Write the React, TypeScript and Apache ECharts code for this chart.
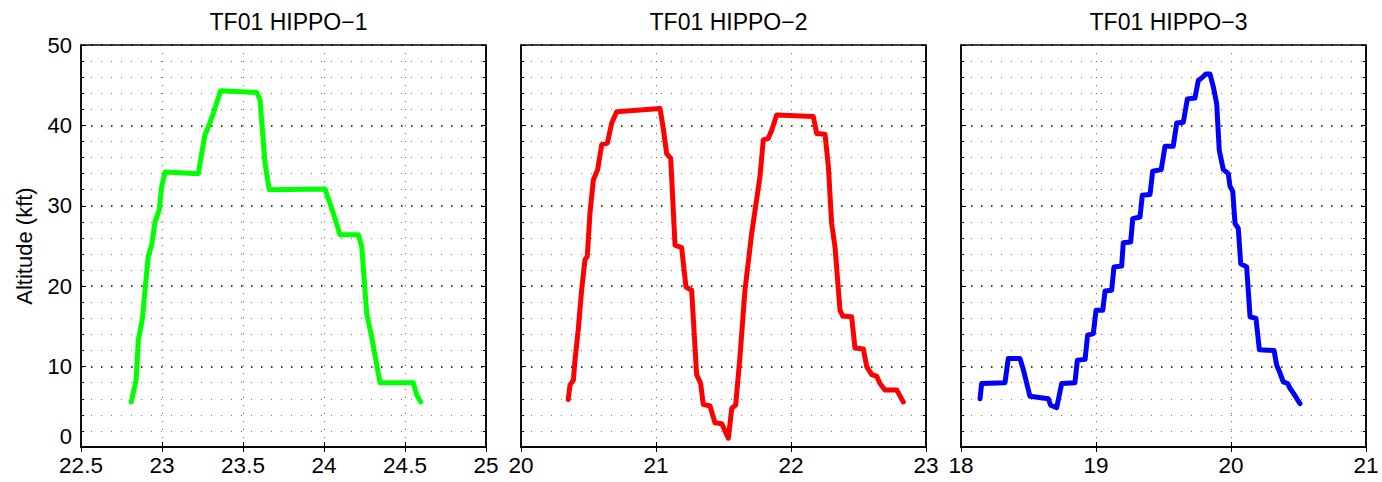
import React, { useEffect, useRef } from "react";
import * as echarts from "echarts";

const titles = ["TF01 HIPPO\u22121", "TF01 HIPPO\u22122", "TF01 HIPPO\u22123"];
const colors = ["#00ff00", "#ff0000", "#0000ff"];
const xMins = [22.5, 20, 18];
const xMaxs = [25, 23, 21];
const xSteps = [0.5, 1, 1];
const yTicks = [0, 10, 20, 30, 40, 50];
const yLabel = "Altitude (kft)";

const h1Time = [22.81, 22.84, 22.854, 22.878, 22.915, 22.936, 22.957, 22.983, 22.998, 23.019, 23.224, 23.245, 23.265, 23.286, 23.317, 23.362, 23.585, 23.605, 23.636, 23.662, 24.006, 24.057, 24.099, 24.212, 24.233, 24.264, 24.294, 24.346, 24.551, 24.572, 24.597];
const h1Alt = [5.6, 8.3, 13.3, 15.8, 23.7, 25.1, 28.0, 29.5, 32.4, 34.2, 34.0, 36.5, 38.8, 39.8, 41.5, 44.3, 44.1, 43.2, 35.3, 32.0, 32.1, 29.1, 26.4, 26.4, 24.9, 16.6, 13.7, 8.0, 8.0, 6.5, 5.6];

const h2Time = [20.35, 20.363, 20.388, 20.4, 20.424, 20.449, 20.474, 20.491, 20.511, 20.536, 20.568, 20.598, 20.64, 20.672, 20.709, 21.03, 21.054, 21.079, 21.109, 21.141, 21.19, 21.222, 21.264, 21.301, 21.331, 21.35, 21.4, 21.437, 21.487, 21.536, 21.561, 21.59, 21.622, 21.659, 21.709, 21.77, 21.795, 21.832, 21.857, 21.894, 22.165, 22.19, 22.252, 22.277, 22.301, 22.326, 22.363, 22.383, 22.449, 22.474, 22.536, 22.561, 22.598, 22.635, 22.659, 22.696, 22.783, 22.832];
const h2Alt = [5.9, 7.7, 8.3, 10.8, 14.6, 19.5, 23.3, 23.7, 29.1, 33.2, 34.5, 37.6, 37.8, 40.3, 41.7, 42.1, 39.6, 36.5, 35.9, 25.1, 24.8, 19.9, 19.5, 9.0, 7.9, 5.3, 5.1, 3.0, 2.9, 1.1, 4.8, 5.2, 11.2, 19.5, 26.6, 33.6, 38.2, 38.4, 39.4, 41.3, 41.1, 39.0, 38.9, 34.9, 27.8, 24.9, 17.0, 16.3, 16.2, 12.3, 12.2, 10.0, 9.0, 8.8, 7.9, 7.1, 7.1, 5.6];

const h3Time = [18.141, 18.153, 18.326, 18.35, 18.437, 18.462, 18.511, 18.647, 18.664, 18.709, 18.746, 18.844, 18.862, 18.919, 18.938, 18.98, 19.0, 19.05, 19.067, 19.116, 19.133, 19.19, 19.202, 19.257, 19.272, 19.326, 19.343, 19.4, 19.42, 19.483, 19.511, 19.572, 19.598, 19.647, 19.677, 19.733, 19.758, 19.783, 19.815, 19.844, 19.869, 19.894, 19.913, 19.943, 19.98, 19.993, 20.013, 20.03, 20.054, 20.072, 20.116, 20.141, 20.185, 20.21, 20.319, 20.338, 20.363, 20.387, 20.42, 20.437, 20.462, 20.511];
const h3Alt = [6.0, 7.9, 8.0, 11.0, 11.0, 9.6, 6.3, 6.0, 5.2, 4.9, 7.9, 8.0, 10.8, 10.9, 13.9, 14.1, 17.0, 17.0, 19.4, 19.5, 22.4, 22.5, 25.4, 25.5, 28.4, 28.6, 31.3, 31.4, 34.3, 34.5, 37.4, 37.4, 40.3, 40.4, 43.3, 43.4, 45.6, 45.9, 46.4, 46.4, 44.8, 42.7, 36.9, 34.5, 34.0, 32.4, 31.8, 27.8, 27.2, 22.8, 22.4, 16.2, 16.0, 12.1, 12.0, 10.2, 9.2, 8.1, 7.9, 7.3, 6.7, 5.4];

const times = [h1Time, h2Time, h3Time];
const alts = [h1Alt, h2Alt, h3Alt];

const FONT = "Liberation Sans, Arial, Helvetica, sans-serif";
const LEFTS = [81, 521, 961];
const PW = 405;
const TOP = 45;
const PH = 402;

export default function App() {
  const ref = useRef<HTMLDivElement>(null);
  useEffect(() => {
    if (!ref.current) return;
    const chart = echarts.init(ref.current, null, { renderer: "svg" });
    const grids = LEFTS.map((l) => ({
      left: l,
      top: TOP,
      width: PW,
      height: PH,
      show: true,
      borderColor: "#000",
      borderWidth: 1.5,
      backgroundColor: "transparent",
    }));
    const xAxes: any[] = [];
    const yAxes: any[] = [];
    [0, 1, 2].forEach((i) => {
      xAxes.push({
        type: "value",
        gridIndex: i,
        position: "bottom",
        min: xMins[i],
        max: xMaxs[i],
        interval: xSteps[i],
        axisLine: { show: true, lineStyle: { color: "#000", width: 1.5 } },
        axisTick: { show: true, inside: true, length: 5, lineStyle: { color: "#000" } },
        axisLabel: { show: true, color: "#000", fontSize: 22.5, fontFamily: FONT, margin: 7 },
        splitLine: { show: true, lineStyle: { color: "#666", type: [1, 7], width: 1 } },
      });
    });
    [0, 1, 2].forEach((i) => {
      xAxes.push({
        type: "value",
        gridIndex: i,
        position: "top",
        min: xMins[i],
        max: xMaxs[i],
        interval: xSteps[i],
        axisLine: { show: true, lineStyle: { color: "#000", width: 1.5 } },
        axisTick: { show: true, inside: true, length: 5, lineStyle: { color: "#000" } },
        axisLabel: { show: false },
        splitLine: { show: false },
      });
    });
    [0, 1, 2].forEach((i) => {
      yAxes.push({
        type: "value",
        gridIndex: i,
        position: "left",
        min: yTicks[0],
        max: yTicks[yTicks.length - 1],
        interval: 10,
        name: i === 0 ? yLabel : "",
        nameLocation: "middle",
        nameGap: 46,
        nameTextStyle: { color: "#000", fontSize: 22, fontFamily: FONT },
        axisLine: { show: true, lineStyle: { color: "#000", width: 1.5 } },
        axisTick: { show: true, inside: true, length: 5, lineStyle: { color: "#000" } },
        minorTick: { show: true, splitNumber: 5, length: 3, lineStyle: { color: "#000" } },
        axisLabel: {
          show: i === 0,
          color: "#000",
          fontSize: 22,
          fontFamily: FONT,
          margin: 9,
          verticalAlignMinLabel: "bottom",
        },
        splitLine: { show: true, lineStyle: { color: "#000", type: [1.5, 8.5], width: 1.5 } },
        minorSplitLine: { show: true, lineStyle: { color: "#777", type: [1, 9], width: 1 } },
      });
    });
    [0, 1, 2].forEach((i) => {
      yAxes.push({
        type: "value",
        gridIndex: i,
        position: "right",
        min: yTicks[0],
        max: yTicks[yTicks.length - 1],
        interval: 10,
        axisLine: { show: true, lineStyle: { color: "#000", width: 1.5 } },
        axisTick: { show: true, inside: true, length: 5, lineStyle: { color: "#000" } },
        minorTick: { show: true, splitNumber: 5, length: 3, lineStyle: { color: "#000" } },
        axisLabel: { show: false },
        splitLine: { show: false },
      });
    });
    const series = [0, 1, 2].map((i) => ({
      type: "line",
      xAxisIndex: i,
      yAxisIndex: i,
      data: times[i].map((t, k) => [t, alts[i][k]]),
      showSymbol: false,
      symbol: "none",
      lineStyle: { color: colors[i], width: 5, cap: "round", join: "round" },
      itemStyle: { color: colors[i] },
      z: 5,
    }));
    chart.setOption({
      animation: false,
      backgroundColor: "#fff",
      title: titles.map((t, i) => ({
        text: t,
        left: LEFTS[i] + PW / 2,
        top: 5,
        textAlign: "center",
        textStyle: { color: "#000", fontSize: 23, fontWeight: "normal", fontFamily: FONT },
      })),
      grid: grids,
      xAxis: xAxes,
      yAxis: yAxes,
      series,
    });
    return () => chart.dispose();
  }, []);
  return (
    <div
      ref={ref}
      style={{ position: "fixed", left: 0, top: 0, width: 1382, height: 482, background: "#fff" }}
    />
  );
}
